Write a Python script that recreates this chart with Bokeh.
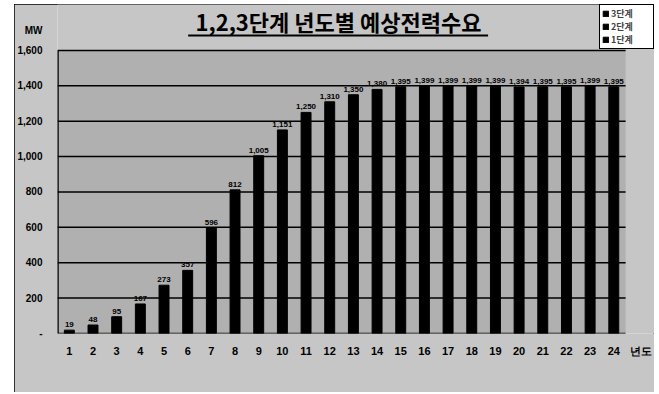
from bokeh.plotting import figure
from bokeh.models import (Label, Legend, LegendItem, FixedTicker, BoxAnnotation,
                          ColumnDataSource)
from bokeh.core.properties import value
from bokeh.embed import file_html
from bokeh.resources import INLINE

# ---- data ----
years = list(range(1, 25))
demand_mw = [19, 48, 95, 167, 273, 357, 596, 812, 1005, 1151, 1250, 1310,
             1350, 1380, 1395, 1399, 1399, 1399, 1399, 1394, 1395, 1395, 1399, 1395]
y_ticks = [0, 200, 400, 600, 800, 1000, 1200, 1400, 1600]
stage_names = ["3단계", "2단계", "1단계"]
title_text = "1,2,3단계 년도별 예상전력수요"
y_unit = "MW"
x_unit = "년도"

# ---- layout constants (plot area in data units, extra room for title/legend) ----
X_LO, X_HI = 0.5, 24.5
Y_LO, Y_HI = 0, 1600
X_END, Y_END = 25.72, 1860
MW_POS = 1712
UNIT_POS = 25.15

KR = "Noto Sans CJK KR"
LAT = "Liberation Sans"

src = ColumnDataSource(dict(x=years, y=demand_mw,
                            lab=[f"{v:,}" for v in demand_mw]))

p = figure(width=640, height=388, output_backend="svg", toolbar_location=None,
           x_range=(X_LO, X_END), y_range=(Y_LO, Y_END),
           min_border_left=41, min_border_right=0, min_border_top=0,
           min_border_bottom=59)
p.margin = (4, 0, 0, 14)
p.styles = {"outline": "1px solid black", "outline-offset": "-1px"}
p.background_fill_color = "#c6c6c6"
p.border_fill_color = "#c6c6c6"
p.outline_line_color = None

# plot area background
p.quad(left=[X_LO], right=[X_HI], bottom=[Y_LO], top=[Y_HI],
       fill_color="#b0b0b0", line_color=None)
# horizontal grid lines
p.segment(x0=[X_LO] * len(y_ticks), x1=[X_HI] * len(y_ticks),
          y0=y_ticks, y1=y_ticks, line_color="black", line_width=1.5)

r1 = p.vbar(x="x", top="y", width=0.42, color="black", source=src)

# left edge of plot area
p.segment(x0=[X_LO], x1=[X_LO], y0=[Y_LO], y1=[Y_HI], line_color="black",
          line_width=2.5)

p.text(x="x", y="y", text="lab", source=src, y_offset=-3,
       text_align="center", text_baseline="bottom",
       text_font=value(LAT), text_font_style="bold", text_font_size="8px",
       text_color="black")

# axes
p.xaxis.ticker = FixedTicker(ticks=years + [UNIT_POS])
p.xaxis.major_label_overrides = {UNIT_POS: x_unit}
p.xaxis.axis_line_color = None
p.xaxis.major_tick_line_color = None
p.xaxis.minor_tick_line_color = None
p.xaxis.major_label_standoff = 5
p.xaxis.major_label_text_font = LAT
p.xaxis.major_label_text_font_style = "bold"
p.xaxis.major_label_text_font_size = "11px"
p.xaxis.major_label_text_color = "black"

p.yaxis.ticker = FixedTicker(ticks=y_ticks + [MW_POS])
overrides = {t: ("-" if t == 0 else f"{t:,}") for t in y_ticks}
overrides[MW_POS] = y_unit
p.yaxis.major_label_overrides = overrides
p.yaxis.axis_line_color = None
p.yaxis.major_tick_line_color = None
p.yaxis.minor_tick_line_color = None
p.yaxis.major_label_standoff = 9
p.yaxis.major_label_text_font = LAT
p.yaxis.major_label_text_font_style = "bold"
p.yaxis.major_label_text_font_size = "10px"
p.yaxis.major_label_text_color = "black"

p.xgrid.grid_line_color = None
p.ygrid.grid_line_color = None

# title + underline
p.add_layout(Label(x=12.37, y=1768, text=title_text, text_align="center",
                   text_baseline="middle", text_font=KR, text_font_style="bold",
                   text_font_size="22px", text_color="black"))
p.add_layout(BoxAnnotation(left=6.02, right=18.69, bottom=1679, top=1690,
                           fill_color="black", fill_alpha=1, line_color=None))

legend = Legend(items=[LegendItem(label=name, renderers=[r1]) for name in stage_names],
                location=(542, 284), orientation="vertical")
legend.margin = 0
legend.padding = 2
legend.spacing = 0
legend.glyph_width = 7
legend.glyph_height = 7
legend.label_height = 11
legend.label_width = 40
legend.label_standoff = 2
legend.label_text_font = KR
legend.label_text_font_style = "bold"
legend.label_text_font_size = "9px"
legend.border_line_color = "black"
legend.border_line_alpha = 1
legend.border_line_width = 1
legend.background_fill_color = "white"
legend.background_fill_alpha = 1
p.add_layout(legend, "center")

open("out.html", "w").write(file_html(p, INLINE))
